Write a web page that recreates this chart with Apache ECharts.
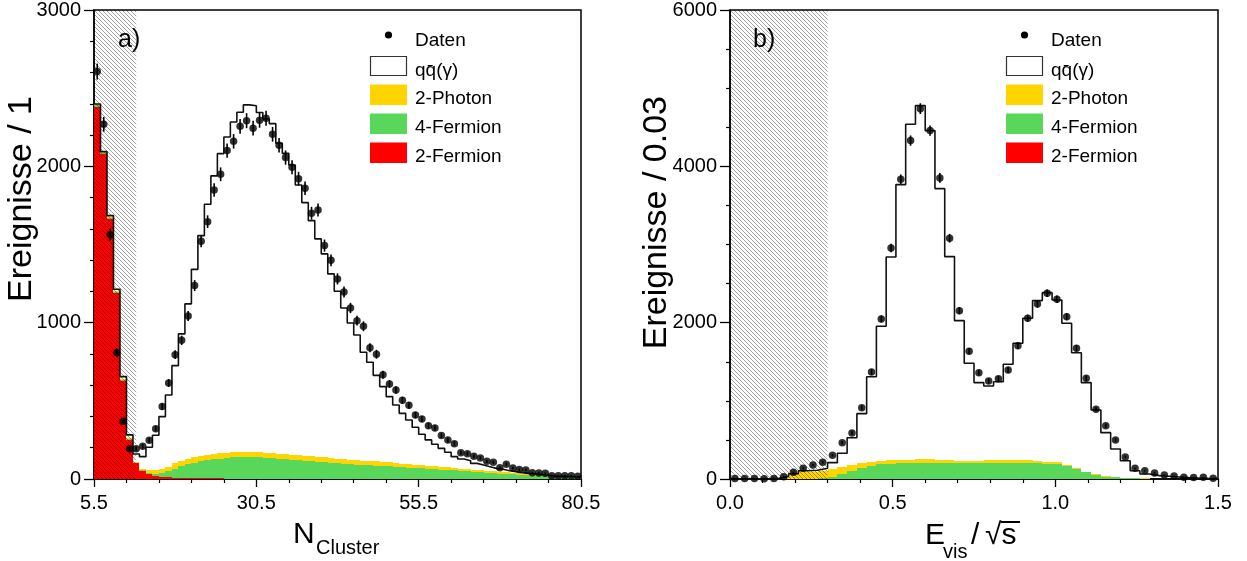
<!DOCTYPE html>
<html><head><meta charset="utf-8">
<script src="https://cdn.jsdelivr.net/npm/echarts@6/dist/echarts.min.js"></script>
<style>html,body{margin:0;padding:0;background:#fff;}#c{width:1247px;height:561px;}</style>
</head><body><div id="c"></div>
<script>
// ---------------- Panel a) : N_Cluster, bins of width 1, centres 6..80 ----------------
const aFirstCenter = 6;
const aBinWidth = 1;
const aCut = [5.5, 12];
const aXTicks = [5.5, 30.5, 55.5, 80.5];
const aYTicks = [0, 1000, 2000, 3000];
const aDaten = [2606,2269,1563,808,369,194,194,209,248,322,463,614,795,887,1043,1237,1521,1646,1849,1949,2101,2160,2256,2292,2244,2295,2308,2205,2135,2056,1994,1921,1860,1700,1721,1493,1399,1280,1196,1094,1013,977,840,798,667,608,569,503,471,409,384,341,326,279,250,226,168,162,145,134,113,107,72,94,70,60,58,40,38,36,21,21,21,21,17];
const aQQ = [3,5,9,11,15,20,50,81,145,225,337,458,625,815,994,1203,1411,1605,1779,1917,2020,2113,2172,2218,2214,2173,2135,2108,1986,1924,1854,1729,1620,1508,1395,1302,1178,1070,967,874,800,693,632,551,482,421,371,321,282,239,198,165,141,118,96,72,61,54,41,34,27,20,17,11,7,4,4,4,4,4,2,4,5,5,4];
const a2Photon = [4,3,6,5,6,8,7,6,20,25,24,27,34,33,32,34,33,32,34,33,33,32,33,32,32,32,32,32,32,32,31,31,30,31,31,31,30,30,29,29,29,28,28,27,26,26,24,24,22,22,20,20,18,18,17,16,15,14,13,13,12,11,11,10,10,9,8,7,6,4,3,2,1,1,1];
const a4Fermion = [10,9,7,6,5,4,3,3,3,11,23,41,58,73,88,99,108,116,122,127,132,136,138,140,139,136,133,130,127,124,121,118,115,111,107,105,102,99,96,93,90,88,85,83,81,78,76,73,71,68,66,63,61,58,56,54,51,48,45,42,39,36,33,31,29,26,23,20,17,15,13,11,9,7,6];
const a2Fermion = [2382,2077,1663,1192,629,250,100,53,35,19,15,11,8,7,6,5,5,4,4,4,3,3,3,3,3,3,3,3,3,3,3,3,3,3,3,2,2,2,2,2,2,2,2,2,2,2,2,2,2,2,2,2,2,2,2,1,1,1,1,1,1,1,1,1,1,1,1,1,1,1,1,1,1,1,1];

// ---------------- Panel b) : E_vis/sqrt(s), bins of width 0.03, centres 0.015..1.485 ----------------
const bFirstCenter = 0.015;
const bBinWidth = 0.03;
const bCut = [0, 0.3];
const bXTicks = [0.0, 0.5, 1.0, 1.5];
const bYTicks = [0, 2000, 4000, 6000];
const bDaten = [5,5,5,3,5,30,86,137,179,214,303,465,589,912,1369,2047,2956,3835,4329,4738,4457,3852,3080,2154,1634,1360,1254,1284,1395,1706,2056,2239,2376,2299,2077,1672,1288,892,682,499,282,137,106,77,51,38,22,18,22,10];
const bQQ = [0,0,0,2,3,2,4,20,18,31,85,179,349,635,1091,1720,2597,3521,4293,4527,4207,3469,2605,1792,1248,999,952,1002,1223,1493,1816,2054,2162,2075,1813,1479,1139,823,555,358,217,94,56,38,32,24,16,12,8,5];
const b2Photon = [0,0,0,0,5,30,64,86,94,96,94,88,74,56,46,46,45,42,40,40,39,36,32,29,29,31,33,35,35,33,32,24,24,25,11,7,9,10,8,6,4,4,3,2,1,1,1,0,0,0];
const b4Fermion = [0,0,0,0,0,0,0,0,0,10,27,59,102,142,169,183,193,198,201,205,206,205,203,200,198,198,200,203,205,205,203,201,195,187,165,127,82,50,30,20,13,8,5,3,2,1,0,0,0,0];
const b2Fermion = [0,0,0,0,0,0,0,0,0,0,3,3,3,3,3,5,5,5,5,5,5,5,5,5,5,5,5,5,5,5,5,3,3,3,3,3,3,0,0,0,0,0,0,0,0,0,0,0,0,0];

const COL_YELLOW = '#ffd400', COL_GREEN = '#59d75a', COL_RED = '#ff0000';
const FONT = '"Liberation Sans", Arial, Helvetica, sans-serif';

function hatchCanvas() {
  const s = 4, c = document.createElement('canvas');
  c.width = s; c.height = s;
  const g = c.getContext('2d');
  g.strokeStyle = 'rgba(0,0,0,0.40)'; g.lineWidth = 0.9;
  g.beginPath();
  g.moveTo(-1, -1); g.lineTo(s + 1, s + 1);
  g.moveTo(-1, s - 1); g.lineTo(1, s + 1);
  g.moveTo(s - 1, -1); g.lineTo(s + 1, 1);
  g.stroke();
  return c;
}
const HATCH = { image: hatchCanvas(), repeat: 'repeat' };

function rectRender(color) {
  return function (params, api) {
    const p0 = api.coord([api.value(0), api.value(3)]);
    const p1 = api.coord([api.value(1), api.value(2)]);
    const x0 = Math.round(p0[0]), x1 = Math.round(p1[0]);
    const yT = Math.round(p0[1]), yB = Math.round(p1[1]);
    if (yB - yT <= 0) return null;
    return { type: 'rect', shape: { x: x0, y: yT, width: x1 - x0, height: yB - yT }, style: { fill: color } };
  };
}
function errRender(params, api) {
  const a = api.coord([api.value(0), api.value(1)]);
  const b = api.coord([api.value(0), api.value(2)]);
  return { type: 'line', shape: { x1: a[0], y1: a[1], x2: b[0], y2: b[1] }, style: { stroke: '#000', lineWidth: 1.6 } };
}

function panelSeries(idx, first, w, daten, qq, ph, f4, f2, cut, ymax) {
  const n = daten.length;
  const red = [], green = [], yellow = [], outline = [], pts = [], errs = [];
  for (let i = 0; i < n; i++) {
    const c = first + i * w, x0 = c - w / 2, x1 = c + w / 2;
    const r = f2[i], g = r + f4[i], y = g + ph[i], t = y + qq[i];
    red.push([x0, x1, 0, r]);
    green.push([x0, x1, r, g]);
    yellow.push([x0, x1, g, y]);
    outline.push([x0, t]);
    if (i === n - 1) outline.push([x1, t]);
    pts.push([c, daten[i]]);
    const e = Math.sqrt(daten[i]);
    errs.push([c, daten[i] - e, daten[i] + e]);
  }
  const common = { xAxisIndex: idx, yAxisIndex: idx, silent: true };
  const enc = { x: [0, 1], y: [2, 3] };
  return [
    Object.assign({ type: 'custom', name: '2-Fermion', renderItem: rectRender(COL_RED), data: red, encode: enc, z: 1 }, common),
    Object.assign({ type: 'custom', name: '4-Fermion', renderItem: rectRender(COL_GREEN), data: green, encode: enc, z: 1 }, common),
    Object.assign({ type: 'custom', name: '2-Photon', renderItem: rectRender(COL_YELLOW), data: yellow, encode: enc, z: 1 }, common),
    Object.assign({ type: 'line', name: 'cut', data: [], z: 3,
      markArea: { silent: true, z: 3, itemStyle: { color: HATCH, borderWidth: 0 }, label: { show: false },
        data: [[{ xAxis: cut[0], yAxis: 0 }, { xAxis: cut[1], yAxis: ymax }]] } }, common),
    Object.assign({ type: 'line', name: 'qq\u0304(\u03b3)', data: outline, step: 'end', symbol: 'none',
      lineStyle: { color: '#111', width: 1.6 }, z: 4 }, common),
    Object.assign({ type: 'custom', name: 'err', renderItem: errRender, data: errs, encode: { x: 0, y: [1, 2] }, z: 5 }, common),
    Object.assign({ type: 'scatter', name: 'Daten', data: pts, symbol: 'circle', symbolSize: 7.5,
      itemStyle: { color: '#000' }, z: 6 }, common)
  ];
}

function xAxisCfg(idx, min, max, interval, dec) {
  return {
    type: 'value', gridIndex: idx, min, max, interval,
    axisLine: { show: true, onZero: false, lineStyle: { color: '#000', width: 1.5 } },
    axisTick: { show: true, inside: false, length: 8, lineStyle: { color: '#000', width: 1.3 } },
    minorTick: { show: true, splitNumber: 5, length: 4, lineStyle: { color: '#000', width: 1.2 } },
    splitLine: { show: false }, minorSplitLine: { show: false },
    axisLabel: { show: true, margin: 14, color: '#000', fontFamily: FONT, fontSize: 20,
      formatter: v => Number(v).toFixed(dec), showMinLabel: true, showMaxLabel: true, hideOverlap: false }
  };
}
function yAxisCfg(idx, max, interval, minorSplit) {
  return {
    type: 'value', gridIndex: idx, min: 0, max, interval,
    axisLine: { show: true, onZero: false, lineStyle: { color: '#000', width: 1.5 } },
    axisTick: { show: true, inside: false, length: 10, lineStyle: { color: '#000', width: 1.3 } },
    minorTick: { show: true, splitNumber: minorSplit, length: 4, lineStyle: { color: '#000', width: 1.2 } },
    splitLine: { show: false }, minorSplitLine: { show: false },
    axisLabel: { show: true, margin: 13, color: '#000', fontFamily: FONT, fontSize: 20,
      formatter: v => String(Math.round(v)), showMinLabel: true, showMaxLabel: true, hideOverlap: false }
  };
}

function legendGraphics(x0) {
  const items = [];
  const t = (text, y) => ({ type: 'text', x: x0 + 45, y, silent: true,
    style: { text, font: '19px ' + FONT, fill: '#000', align: 'left', verticalAlign: 'middle', textAlign: 'left', textVerticalAlign: 'middle' } });
  items.push({ type: 'circle', silent: true, shape: { cx: x0 + 18.5, cy: 35, r: 3.6 }, style: { fill: '#000' } });
  items.push(t('Daten', 41));
  items.push({ type: 'rect', silent: true, shape: { x: x0 + 0.5, y: 56.5, width: 36, height: 19 }, style: { fill: '#fff', stroke: '#333', lineWidth: 1.2 } });
  items.push(t('qq\u0304(\u03b3)', 71));
  items.push({ type: 'rect', silent: true, shape: { x: x0, y: 84.5, width: 37, height: 20.5 }, style: { fill: COL_YELLOW } });
  items.push(t('2-Photon', 99));
  items.push({ type: 'rect', silent: true, shape: { x: x0, y: 113.5, width: 37, height: 20.5 }, style: { fill: COL_GREEN } });
  items.push(t('4-Fermion', 128));
  items.push({ type: 'rect', silent: true, shape: { x: x0, y: 142.5, width: 37, height: 20.5 }, style: { fill: COL_RED } });
  items.push(t('2-Fermion', 157));
  return items;
}
function txt(text, x, y, size, align, valign, rot) {
  return { type: 'text', x, y, rotation: rot || 0, silent: true,
    style: { text, font: size + 'px ' + FONT, fill: '#000', align: align, verticalAlign: valign, textAlign: align, textVerticalAlign: valign } };
}

const graphics = [].concat(
  legendGraphics(370), legendGraphics(1006),
  [
    txt('a)', 118, 40, 25, 'left', 'middle'),
    txt('b)', 753, 40, 25, 'left', 'middle'),
    txt('Ereignisse / 1', 22, 96, 34, 'right', 'middle', Math.PI / 2),
    txt('Ereignisse / 0.03', 657, 96, 34, 'right', 'middle', Math.PI / 2),
    txt('N', 293, 550, 30, 'left', 'bottom'),
    txt('Cluster', 316, 558, 20, 'left', 'bottom'),
    txt('E', 925, 551, 30, 'left', 'bottom'),
    txt('vis', 943, 562, 20, 'left', 'bottom'),
    txt('/', 971, 551, 30, 'left', 'bottom'),
    txt('\u221As', 985, 551, 30, 'left', 'bottom'),
    { type: 'line', silent: true, shape: { x1: 1001, y1: 522, x2: 1020, y2: 522 }, style: { stroke: '#000', lineWidth: 2 } }
  ]
);

const option = {
  animation: false,
  backgroundColor: '#fff',
  grid: [
    { left: 94, top: 10, width: 487, height: 469, show: true, borderColor: '#000', borderWidth: 1.5, backgroundColor: 'transparent', containLabel: false },
    { left: 730, top: 10, width: 488, height: 469, show: true, borderColor: '#000', borderWidth: 1.5, backgroundColor: 'transparent', containLabel: false }
  ],
  xAxis: [ xAxisCfg(0, aXTicks[0], aXTicks[aXTicks.length - 1], aXTicks[1] - aXTicks[0], 1),
           xAxisCfg(1, bXTicks[0], bXTicks[bXTicks.length - 1], bXTicks[1] - bXTicks[0], 1) ],
  yAxis: [ yAxisCfg(0, aYTicks[aYTicks.length - 1], aYTicks[1] - aYTicks[0], 5),
           yAxisCfg(1, bYTicks[bYTicks.length - 1], bYTicks[1] - bYTicks[0], 4) ],
  series: [].concat(
    panelSeries(0, aFirstCenter, aBinWidth, aDaten, aQQ, a2Photon, a4Fermion, a2Fermion, aCut, aYTicks[aYTicks.length - 1]),
    panelSeries(1, bFirstCenter, bBinWidth, bDaten, bQQ, b2Photon, b4Fermion, b2Fermion, bCut, bYTicks[bYTicks.length - 1])
  ),
  graphic: graphics
};
const chart = echarts.init(document.getElementById('c'));
chart.setOption(option);
</script></body></html>
